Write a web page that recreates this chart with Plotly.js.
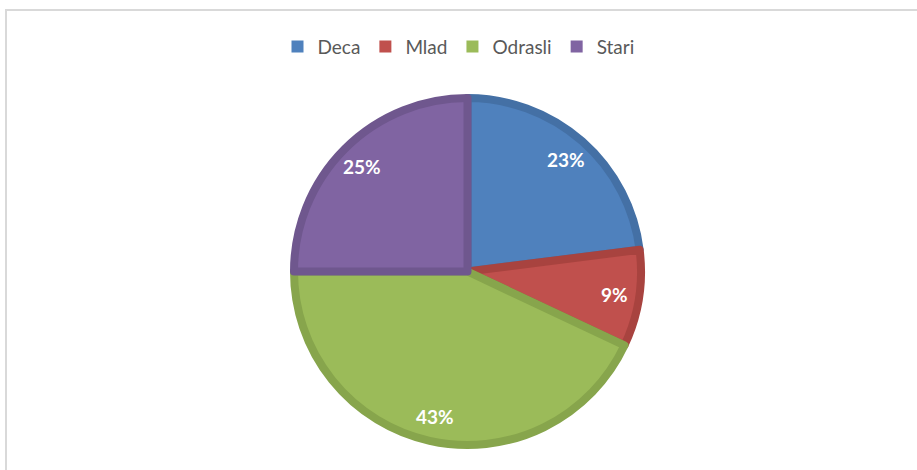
<!DOCTYPE html>
<html>
<head>
<meta charset="utf-8">
<script src="https://cdn.plot.ly/plotly-3.0.1.min.js"></script>
<style>
html,body{margin:0;padding:0;background:#fff;}
#frame{position:absolute;left:5px;top:9px;width:930px;height:480px;border-left:2px solid #d9d9d9;border-top:2px solid #d9d9d9;box-sizing:border-box;}
#chart{position:absolute;left:0;top:0;width:917px;height:470px;}
</style>
</head>
<body>
<div id="frame"></div>
<div id="chart"></div>
<script>
const categories = ["Deca", "Mlad", "Odrasli", "Stari"];
const values = [23, 9, 43, 25];
const fillColors = ["#4F81BD", "#C0504D", "#9BBB59", "#8064A2"];
const edgeColors = ["#4470A5", "#A8433F", "#87A54C", "#6F578E"];

const W = 917, H = 470;
const cx = 467.5, cy = 271.5, R = 173.5, labelR = 149;
const domain = {x: [(cx - R) / W, (cx + R) / W], y: [(H - cy - R) / H, (H - cy + R) / H]};
const tinyDomain = {x: [(cx - 2) / W, (cx + 2) / W], y: [(H - cy - 2) / H, (H - cy + 2) / H]};

const total = values.reduce((a, b) => a + b, 0);
const annotations = [];
let cum = 0;
values.forEach((v, i) => {
  const mid = (cum + v / 2) / total * 2 * Math.PI;
  cum += v;
  annotations.push({
    xref: "paper", yref: "paper",
    x: (cx + labelR * Math.sin(mid)) / W,
    y: (H - cy + labelR * Math.cos(mid)) / H,
    text: Math.round(v / total * 100) + "%",
    showarrow: false, xanchor: "center", yanchor: "middle",
    font: {family: "Lato, 'Open Sans', sans-serif", size: 19, color: "#ffffff", weight: "bold"}
  });
});

// Legend-only trace (solid squares), hidden under the main pie
const legendTrace = {
  type: "pie",
  labels: categories,
  values: values,
  sort: false,
  direction: "clockwise",
  marker: {colors: fillColors, line: {width: 0}},
  textinfo: "none",
  hoverinfo: "skip",
  showlegend: true,
  domain: tinyDomain
};

const pieTrace = {
  type: "pie",
  labels: categories,
  values: values,
  sort: false,
  direction: "clockwise",
  rotation: 0,
  marker: {colors: fillColors, line: {color: edgeColors, width: 8}},
  textinfo: "none",
  hoverinfo: "label+percent",
  showlegend: false,
  domain: domain
};

const layout = {
  width: W, height: H,
  margin: {l: 0, r: 0, t: 0, b: 0},
  paper_bgcolor: "rgba(0,0,0,0)",
  plot_bgcolor: "rgba(0,0,0,0)",
  showlegend: true,
  annotations: annotations,
  legend: {
    orientation: "h", x: 0.5, xanchor: "center", y: 0.901, yanchor: "middle",
    font: {family: "Lato, 'Open Sans', sans-serif", size: 19, color: "#595959"},
    itemwidth: 30, traceorder: "normal"
  }
};

Plotly.newPlot("chart", [legendTrace, pieTrace], layout, {displayModeBar: false, staticPlot: true});
</script>
</body>
</html>
